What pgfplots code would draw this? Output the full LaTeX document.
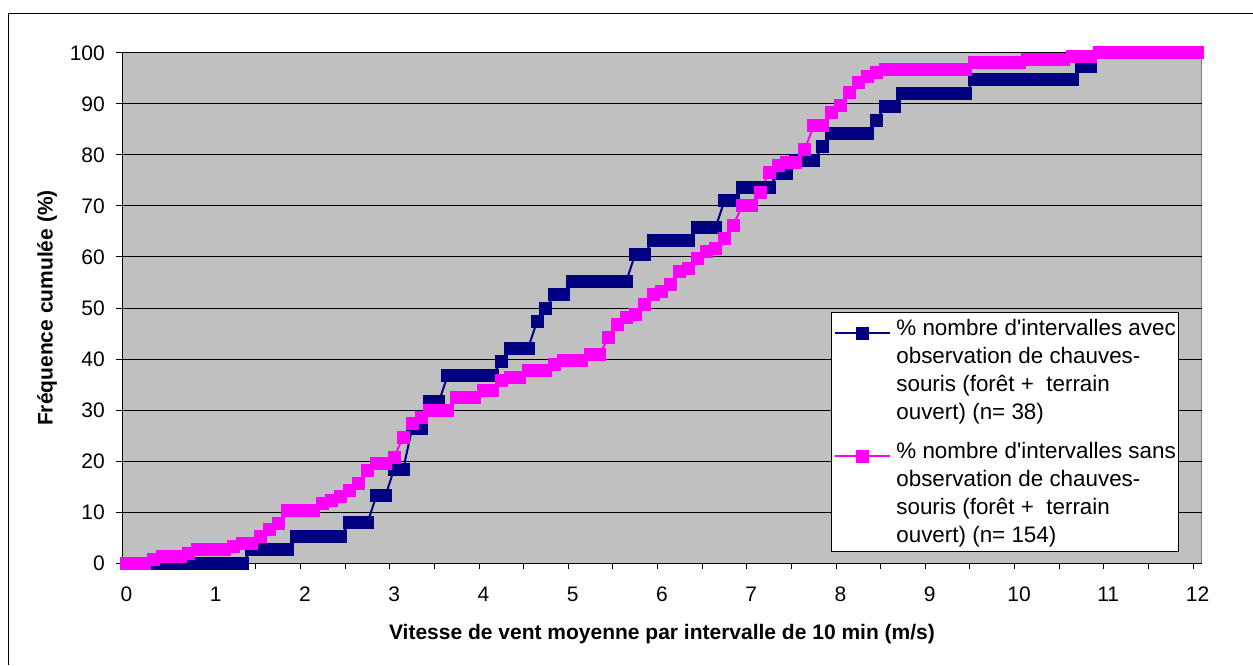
\documentclass[border=0pt]{standalone}
\usepackage{pgfplots}
\pgfplotsset{compat=1.18}
\usepackage{fontspec}
\setmainfont{Liberation Sans}
\definecolor{bgc}{HTML}{C0C0C0}
\definecolor{navyc}{HTML}{000080}
\definecolor{magc}{HTML}{FF00FF}
\definecolor{bordc}{HTML}{808080}
\begin{document}
\begin{tikzpicture}[x=1pt,y=1pt]
\useasboundingbox (0,0) rectangle (1253,665);
\draw[black, line width=1pt] (8.5,0) -- (8.5,651) -- (1253,651);
\begin{axis}[
  at={(122pt,102pt)}, anchor=south west,
  width=1080pt, height=510pt, scale only axis,
  xmin=-0.05, xmax=12.05, ymin=0, ymax=100,
  axis x line*=bottom, axis y line*=left,
  axis line style={-, black, line width=1pt},
  axis background/.style={fill=bgc, draw=bordc, line width=1pt},
  xtick={0,1,...,12}, ytick={0,10,...,100},
  minor xtick={-0.05,0.45,...,11.95},
  minor ytick={0,10,...,100},
  major tick length=0pt, minor tick length=6pt,
  tick align=outside,
  tick style={black, line width=1pt},
  ymajorgrids, major grid style={black, line width=1pt},
  clip=false,
  ticklabel style={font=\fontsize{21}{25}\selectfont},
  /pgf/number format/assume math mode=true,
  xticklabel style={anchor=north, inner sep=0pt, yshift=-23.5pt},
  yticklabel style={anchor=east, inner sep=0pt, xshift=-17pt},
  xlabel={Vitesse de vent moyenne par intervalle de 10 min (m/s)},
  ylabel={Fréquence cumulée (\%)},
  every axis x label/.style={at={(axis description cs:0.5,-0.139)}, anchor=center, font=\bfseries\fontsize{21}{25}\selectfont},
  every axis y label/.style={at={(axis description cs:-0.0694,0.5)}, anchor=center, rotate=90, font=\bfseries\fontsize{21}{25}\selectfont},
  legend style={at={(0.979,0.492)}, anchor=north east, draw=black, line width=1pt, fill=white,
    font=\fontsize{22.4}{28}\selectfont, inner xsep=3pt, inner ysep=7pt, row sep=21pt, column sep=5pt,
    nodes={inner sep=0pt}, cells={align=left, anchor=west}},
  legend image code/.code={\draw[#1, mark repeat=2, mark phase=2] plot coordinates {(0pt,37pt) (27.5pt,37pt) (55pt,37pt)};},
]
\addplot[navyc, line width=2pt, mark=square*, mark size=6pt, mark options={solid, fill=navyc, draw=navyc, line width=1pt}] coordinates {
(0,0)(0.1,0)(0.2,0)(0.3,0)(0.4,0)(0.5,0)(0.6,0)(0.7,0)(0.8,0)(0.9,0)(1.0,0)(1.1,0)(1.2,0)(1.3,0)
(1.4,2.63)(1.5,2.63)(1.6,2.63)(1.7,2.63)(1.8,2.63)
(1.9,5.26)(2.0,5.26)(2.1,5.26)(2.2,5.26)(2.3,5.26)(2.4,5.26)
(2.5,7.89)(2.6,7.89)(2.7,7.89)
(2.8,13.16)(2.9,13.16)
(3.0,18.42)(3.1,18.42)
(3.2,26.32)(3.3,26.32)
(3.4,31.58)(3.5,31.58)
(3.6,36.84)(3.7,36.84)(3.8,36.84)(3.9,36.84)(4.0,36.84)(4.1,36.84)
(4.2,39.47)
(4.3,42.11)(4.4,42.11)(4.5,42.11)
(4.6,47.37)
(4.7,50)
(4.8,52.63)(4.9,52.63)
(5.0,55.26)(5.1,55.26)(5.2,55.26)(5.3,55.26)(5.4,55.26)(5.5,55.26)(5.6,55.26)
(5.7,60.53)(5.8,60.53)
(5.9,63.16)(6.0,63.16)(6.1,63.16)(6.2,63.16)(6.3,63.16)
(6.4,65.79)(6.5,65.79)(6.6,65.79)
(6.7,71.05)(6.8,71.05)
(6.9,73.68)(7.0,73.68)(7.1,73.68)(7.2,73.68)
(7.3,76.32)(7.4,76.32)
(7.5,78.95)(7.6,78.95)(7.7,78.95)
(7.8,81.58)
(7.9,84.21)(8.0,84.21)(8.1,84.21)(8.2,84.21)(8.3,84.21)
(8.4,86.84)
(8.5,89.47)(8.6,89.47)
(8.7,92.11)(8.8,92.11)(8.9,92.11)(9.0,92.11)(9.1,92.11)(9.2,92.11)(9.3,92.11)(9.4,92.11)
(9.5,94.74)(9.6,94.74)(9.7,94.74)(9.8,94.74)(9.9,94.74)(10.0,94.74)(10.1,94.74)(10.2,94.74)(10.3,94.74)(10.4,94.74)(10.5,94.74)(10.6,94.74)
(10.7,97.37)(10.8,97.37)
(10.9,100)(11.0,100)(11.1,100)(11.2,100)(11.3,100)(11.4,100)(11.5,100)(11.6,100)(11.7,100)(11.8,100)(11.9,100)(12.0,100)
};
\addlegendentry{\% nombre d\textquotesingle intervalles avec\\observation de chauves-\\souris (forêt + \ terrain\\ouvert) (n= 38)}
\addplot[magc, line width=2pt, mark=square*, mark size=6pt, mark options={solid, fill=magc, draw=magc, line width=1pt}] coordinates {
(0,0)(0.1,0)(0.2,0)(0.3,0.65)(0.4,1.3)(0.5,1.3)(0.6,1.3)(0.7,1.95)(0.8,2.6)(0.9,2.6)(1.0,2.6)(1.1,2.6)(1.2,3.25)(1.3,3.9)(1.4,3.9)
(1.5,5.19)(1.6,6.49)(1.7,7.79)(1.8,10.39)(1.9,10.39)(2.0,10.39)(2.1,10.39)(2.2,11.69)(2.3,12.34)(2.4,12.99)
(2.5,14.29)(2.6,15.58)(2.7,18.18)(2.8,19.48)(2.9,19.48)(3.0,20.78)(3.1,24.68)(3.2,27.27)(3.3,28.57)(3.4,29.87)
(3.5,29.87)(3.6,29.87)(3.7,32.47)(3.8,32.47)(3.9,32.47)(4.0,33.77)(4.1,33.77)(4.2,35.71)(4.3,36.36)(4.4,36.36)
(4.5,37.66)(4.6,37.66)(4.7,37.66)(4.8,38.96)(4.9,39.61)(5.0,39.61)(5.1,39.61)(5.2,40.91)(5.3,40.91)(5.4,44.16)
(5.5,46.75)(5.6,48.05)(5.7,48.7)(5.8,50.65)(5.9,52.6)(6.0,53.25)(6.1,54.55)(6.2,57.14)(6.3,57.79)(6.4,59.74)
(6.5,61.04)(6.6,61.69)(6.7,63.64)(6.8,66.23)(6.9,70.13)(7.0,70.13)(7.1,72.73)(7.2,76.62)(7.3,77.92)(7.4,78.57)
(7.5,78.57)(7.6,81.17)(7.7,85.71)(7.8,85.71)(7.9,88.31)(8.0,89.61)(8.1,92.21)(8.2,94.16)(8.3,95.45)(8.4,96.1)
(8.5,96.75)(8.6,96.75)(8.7,96.75)(8.8,96.75)(8.9,96.75)(9.0,96.75)(9.1,96.75)(9.2,96.75)(9.3,96.75)(9.4,96.75)
(9.5,98.05)(9.6,98.05)(9.7,98.05)(9.8,98.05)(9.9,98.05)(10.0,98.05)
(10.1,98.7)(10.2,98.7)(10.3,98.7)(10.4,98.7)(10.5,98.7)
(10.6,99.35)(10.7,99.35)(10.8,99.35)
(10.9,100)(11.0,100)(11.1,100)(11.2,100)(11.3,100)(11.4,100)(11.5,100)(11.6,100)(11.7,100)(11.8,100)(11.9,100)(12.0,100)
};
\addlegendentry{\% nombre d\textquotesingle intervalles sans\\observation de chauves-\\souris (forêt + \ terrain\\ouvert) (n= 154)}
\end{axis}
\end{tikzpicture}
\end{document}
